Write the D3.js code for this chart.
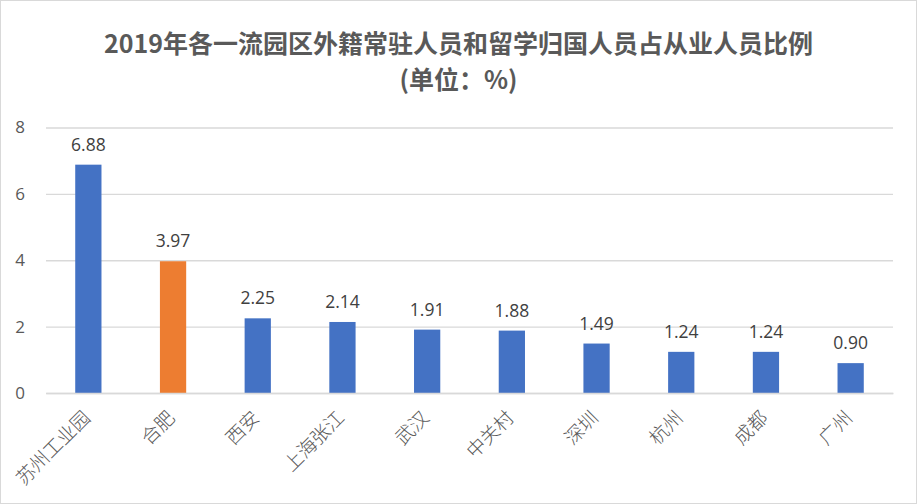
<!DOCTYPE html>
<html><head><meta charset="utf-8">
<script src="https://cdn.jsdelivr.net/npm/d3@7"></script>
<style>
body{margin:0;background:#fff;}
svg{display:block;}
</style></head>
<body>
<svg id="chart" width="917" height="504"></svg>
<script>
const categories = ["苏州工业园","合肥","西安","上海张江","武汉","中关村","深圳","杭州","成都","广州"];
const values = [6.88,3.97,2.25,2.14,1.91,1.88,1.49,1.24,1.24,0.90];
const highlight = ["合肥"];
const yTicks = [0,2,4,6,8];
const titleLines = ["2019年各一流园区外籍常驻人员和留学归国人员占从业人员比例","(单位：%)"];

const W = 917, H = 504;
const svg = d3.select("#chart");
svg.append("rect").attr("x",0.5).attr("y",0.5).attr("width",W-1).attr("height",H-1)
  .attr("fill","#fff").attr("stroke","#d9d9d9");

const m = {left:46, right:24, top:127.5, bottom:111};
const x = d3.scaleBand().domain(categories).range([m.left, W-m.right]).paddingInner(0.69).paddingOuter(0.345);
const y = d3.scaleLinear().domain([0,8]).range([H-m.bottom, m.top]);

const font = "'Noto Sans CJK SC','Noto Sans',sans-serif";
const numFont = "'Open Sans','Noto Sans',sans-serif";

// gridlines
const gy = svg.append("g").attr("transform",`translate(${m.left},0)`)
  .call(d3.axisLeft(y).tickValues(yTicks).tickSize(-(W-m.left-m.right)).tickFormat(d3.format("d")).tickPadding(21));
gy.select(".domain").remove();
gy.selectAll(".tick line").attr("stroke","#d9d9d9").attr("stroke-width",1.3);
gy.selectAll(".tick text").attr("fill","#595959").style("font-family",numFont).style("font-size","17px");

// bars
svg.append("g").selectAll("rect").data(categories).join("rect")
  .attr("x",d=>x(d)).attr("width",x.bandwidth())
  .attr("y",(d,i)=>y(values[i])).attr("height",(d,i)=>y(0)-y(values[i]))
  .attr("fill",d=>highlight.includes(d)?"#ed7d31":"#4472c4");

// value labels
svg.append("g").selectAll("text").data(categories).join("text")
  .attr("x",d=>x(d)+x.bandwidth()/2).attr("y",(d,i)=>y(values[i])-14)
  .attr("text-anchor","middle").attr("fill","#404040")
  .style("font-family",numFont).style("font-size","17.5px")
  .text((d,i)=>values[i].toFixed(2));

// x axis
const gx = svg.append("g").attr("transform",`translate(0,${y(0)})`)
  .call(d3.axisBottom(x).tickSize(0).tickPadding(0));
gx.select(".domain").attr("stroke","#d9d9d9").attr("stroke-width",1.3);
gx.selectAll(".tick text").attr("fill","#595959")
  .style("font-family",font).style("font-size","19px").style("font-weight","300")
  .attr("text-anchor","end").attr("dy",null).attr("y",0)
  .attr("transform","translate(3,26) rotate(-45)");

// title
svg.append("g").selectAll("text").data(titleLines).join("text")
  .attr("x",W/2).attr("y",(d,i)=>53+i*36)
  .attr("text-anchor","middle").attr("fill","#595959")
  .style("font-family",font).style("font-weight","bold").style("font-size","25px")
  .text(d=>d);
</script>
</body></html>
